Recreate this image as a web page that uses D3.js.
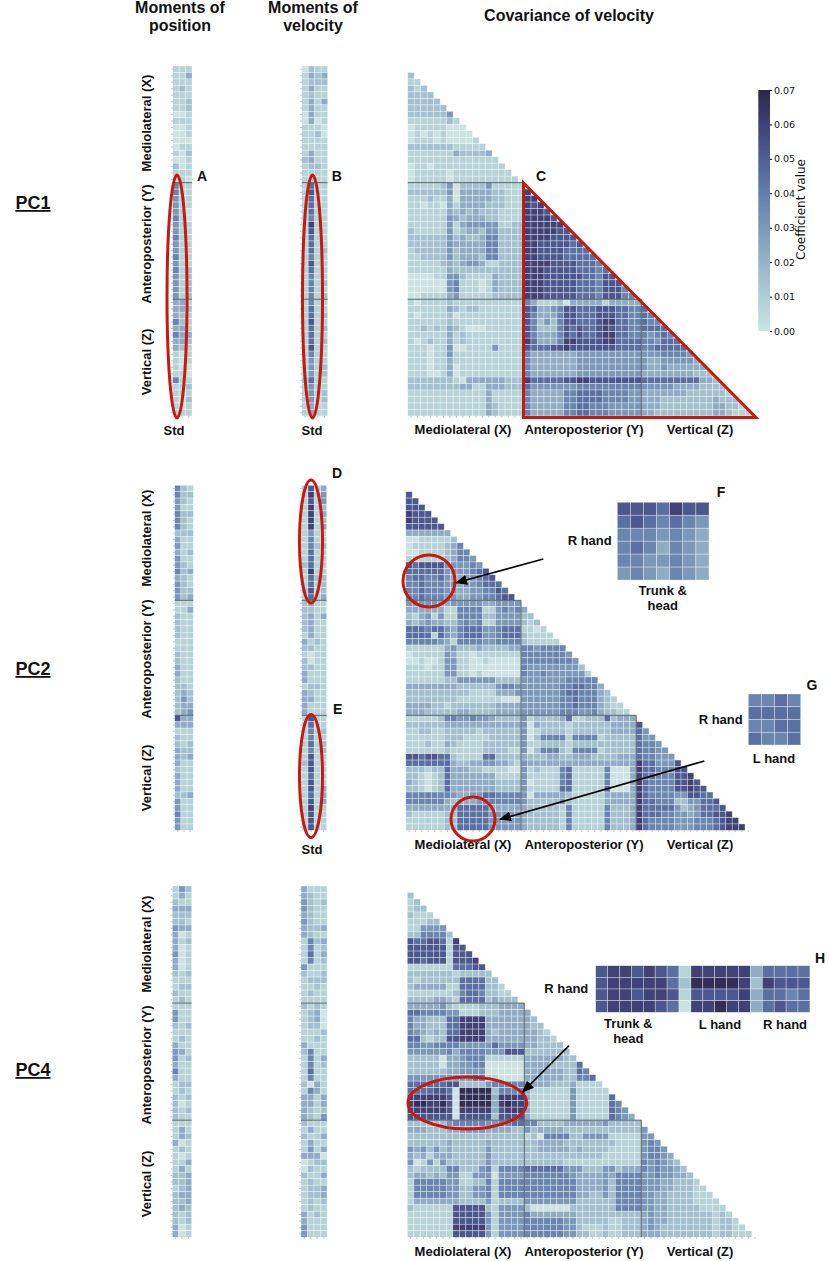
<!DOCTYPE html>
<html>
<head>
<meta charset="utf-8">
<script src="https://cdn.jsdelivr.net/npm/d3@7"></script>
<style>
  html, body { margin: 0; padding: 0; background: #fff; }
  text { font-family: "Liberation Sans", Arial, sans-serif; font-weight: bold; fill: #111; }
</style>
</head>
<body>
<div id="chart"></div>
<script>
// every digit is one cell: value = digit * 0.0075
const levelStep = 0.0075;
const groups = [18, 36];
const colorTicks = [0, 0.01, 0.02, 0.03, 0.04, 0.05, 0.06, 0.07];
const colorStops = ["#cbe3e2", "#afcdd4", "#95b3c7", "#7b98b9", "#647eaa", "#505f95", "#3f4274", "#2b2849"];

// moments, one string per variable (54 rows)
const pc1Pos = ["111","113","111","121","111","112","112","001","111","001","001","000","011","102","001","201","111","010",
  "511","511","411","411","410","510","411","411","511","411","411","511","411","512","412","412","412","412",
  "331","332","321","521","331","533","332","321","101","101","100","110","511","112","111","102","101","111"];
const pc1Vel = ["0211","1323","1222","1311","1211","1313","1311","0311","0301","1110","1120","1111","1111","1311","2311","1221","1111","1111",
  "1611","1711","1611","1611","1611","1511","1811","1711","1611","1611","1612","1511","1711","1611","1511","1512","1511","1512",
  "1511","1611","1612","1711","1612","1611","1612","1711","1511","1411","1412","1412","2611","1411","1412","1412","1311","1311"];
const pc2Pos = ["521","522","421","411","522","521","521","222","311","411","312","411","421","523","321","421","422","423",
  "111","113","211","211","211","211","111","111","211","211","311","311","211","221","232","242","233","234",
  "733","333","111","211","212","322","323","311","211","311","311","311","223","411","411","511","411","411"];
const pc2Vel = ["1713","1814","1714","1812","1813","1812","1813","1411","1511","1522","1611","1611","2611","1811","1622","1612","2712","1613",
  "2311","2211","2313","2311","2311","1311","3121","2211","1011","2011","2211","3111","3111","1221","3211","3311","3111","3111",
  "1711","1611","1512","1511","1612","1512","1711","2711","1711","1611","1711","1713","1613","1713","1811","1711","1711","1711"];
const pc4Pos = ["142","131","211","333","222","221","433","301","312","301","401","301","301","212","111","122","211","121",
  "111","411","411","212","111","121","311","431","412","311","511","311","122","121","212","201","212","211",
  "111","131","132","301","121","101","113","131","223","223","123","233","223","232","212","212","301","301"];
const pc4Vel = ["3111","3211","4212","4211","3211","4211","3223","3211","1523","1512","1613","1512","4111","2112","1222","1121","1211","1111",
  "2121","1230","1230","1220","1112","1121","3111","2511","1513","1512","1611","1511","2031","1531","3313","3313","3212","3214",
  "2111","1311","2113","1311","1413","3330","0122","0211","2113","1211","1223","1223","1212","1211","3121","3111","4111","4111"];

// lower triangles of the covariance matrices, groups of six only to keep the rows countable
const pc1Cov = ["2","11","212","2222","22222","222222","222222 4","111111 21","011111 000","010101 0000","011101 00001",
  "222222 211111","111111 132222 3","111111 111111 11","011011 111111 111","011111 011111 1111","011111 011111 11111",
  "111112 402222 411111",
  "222222 403333 322111 8",
  "111211 303333 322111 88",
  "110110 313333 222111 878",
  "111111 323232 221111 8887",
  "111111 432333 221111 88887",
  "111111 413444 441122 888888",
  "211111 412332 442222 888887 7",
  "222222 423223 552222 888877 77",
  "222222 433333 552222 887777 767",
  "122222 423333 552222 887777 6666",
  "112222 423332 552222 887777 66666",
  "111112 323443 112222 888877 776665",
  "111111 322222 222222 888777 776665 6",
  "000011 442111 132222 888777 777665 77",
  "000000 451110 132222 888777 776665 777",
  "000000 451110 132222 888777 776665 7775",
  "001111 341111 122222 888777 776665 77755",
  "101111 211111 111111 531112 033333 133333",
  "111111 321221 111111 763345 776667 776655 6",
  "101111 201111 111111 753335 776667 776655 65",
  "111111 211111 111111 752425 776667 886655 655",
  "112121 321000 111111 752225 767667 876655 6666",
  "111111 312111 111111 753335 767667 886655 54565",
  "101211 312111 111111 863335 887777 886666 554666",
  "111011 400111 141111 766677 877777 776666 556666 6",
  "111011 411111 111111 533333 334444 444444 444555 54",
  "111011 311111 111111 533333 334444 444444 433444 443",
  "111011 301111 111111 533333 334444 444444 433433 3333",
  "111001 301111 111111 533333 334444 444444 333333 33222",
  "222222 210333 333222 866666 778877 777777 666666 666332",
  "222222 223311 333222 644444 445555 555555 444443 333222 2",
  "111111 111111 311111 533333 556666 555544 333333 322222 21",
  "111111 111111 311111 533333 556666 555544 333222 222223 222",
  "111111 111111 321111 533333 556655 544444 333222 222223 3221",
  "111111 111111 321111 533333 556655 544444 332222 222223 32111"];

const pc2Cov = ["7","77","777","8777","87777","777777","333333 3","001111 12","011111 235","001111 2355","111111 23554",
  "767777 444454","666666 444456 7","566556 433445 67","556555 443445 666","556555 443344 5576","556555 443344 55677",
  "444443 344444 334444",
  "333333 115555 114545 3",
  "213414 115555 224444 22",
  "323433 224545 114444 212",
  "666566 435666 445666 1101",
  "666616 435666 445666 21111",
  "555554 315555 445555 211111",
  "111111 342223 222233 554555 5",
  "011111 431101 111111 555555 54",
  "001001 441100 100000 555555 554",
  "111011 441100 000000 544444 4442",
  "111111 441101 000000 544544 44441",
  "111111 224444 442222 444444 455555",
  "333333 332222 224554 444444 556655 3",
  "222222 222211 113334 444444 566555 32",
  "222222 221111 111000 444444 556555 321",
  "333322 122222 223333 444444 556555 3211",
  "333222 223322 223333 444444 555445 32211",
  "111112 554454 432222 412222 361122 262333",
  "222222 333333 333333 403222 212222 223333 7",
  "112211 222221 222222 401222 212222 223333 64",
  "111111 222111 122222 402555 515555 122222 644",
  "111211 321111 222222 411222 212222 222222 6554",
  "111111 211111 222211 402555 215555 122222 65544",
  "776776 621111 662222 322233 223332 222333 655444",
  "666666 632233 443321 433333 333333 333333 866444 7",
  "222122 633322 111100 412111 561111 150003 866555 77",
  "221012 633333 331111 411111 561111 150003 866555 778",
  "321012 633333 332222 401111 561111 150003 865555 7787",
  "221012 633333 332222 411111 661111 160003 865555 77877",
  "555555 543344 665555 403333 321111 133333 865555 447766",
  "555555 323334 555555 422222 421111 133333 866555 224466 7",
  "333333 336666 633333 322222 151111 152223 866666 423466 67",
  "211111 226666 644444 322222 151111 152223 866655 443466 778",
  "111111 226666 644444 322222 151111 152223 865555 444555 6788",
  "111111 226666 644444 322222 151111 152223 865555 444555 67888"];

const pc4Cov = ["2","12","122","2111","11122","114444","225555 2","766776 18","777777 177","777777 1777","776777 17778",
  "111111 166677","222222 212222 2","212222 226666 22","233333 116666 221","111111 125665 2211","222233 216666 23222",
  "333334 211112 223333",
  "665555 441112 223333 3",
  "533222 668888 333333 32",
  "533222 668888 333333 322",
  "543232 668888 323333 3321",
  "662122 778888 333333 33221",
  "554455 554444 464444 332222",
  "444444 535555 444777 222222 2",
  "222220 334555 111111 333333 22",
  "222220 334455 000000 333322 226",
  "222222 334444 000000 333333 2265",
  "444444 444466 110000 333333 22556",
  "666666 772222 455555 333322 231111",
  "666677 609999 925555 311111 141111 1",
  "888888 709999 938888 311111 141111 16",
  "899889 709999 938988 311111 141111 165",
  "888888 708888 837888 311111 141111 1654",
  "777777 707777 727777 311111 141111 16543",
  "222222 455555 445566 552222 333333 422222",
  "333222 334444 333322 423333 222222 222222 4",
  "222222 222222 222222 120555 522444 411111 44",
  "222222 322222 322222 223333 222222 221111 454",
  "434242 322222 422222 223333 323222 211111 4554",
  "323133 322222 422222 222222 222222 111111 45543",
  "401414 222222 422222 222222 111111 111111 545432",
  "212222 552224 515555 666666 444222 442333 545443 2",
  "233232 441144 404444 555555 543333 435555 445443 32",
  "155555 441122 515555 555555 553333 425555 444332 221",
  "155555 442244 515555 555555 553333 425555 444332 2211",
  "155555 442244 515555 555555 553322 425555 443322 22111",
  "133333 332222 412222 444444 442222 225555 443322 221111",
  "211111 177777 214444 200000 022222 225555 443322 222111 1",
  "111111 177777 414444 533333 332222 222222 343322 222221 21",
  "111111 177777 414444 555555 442222 211222 343322 222221 221",
  "111111 188888 414444 555555 442111 211222 343222 222221 2211",
  "111111 177777 414444 555555 442211 211222 333222 222221 22111"];

// the enlarged insets
const insetF = ["7776877","6765654","5554543","5653543","5544543","4543543"];
const insetG = ["5565","6666","5566","6556"];
const insetH = ["7887876 1 88888 3 6666",
  "7888886 2 99998 2 8777",
  "7887887 1 77778 3 6656",
  "7888876 0 88988 3 6766"];

const width = 829, height = 1261;
const svg = d3.select("#chart").append("svg").attr("width", width).attr("height", height)
  .style("display", "block");
const defs = svg.append("defs");

// the reference is a slightly soft raster
defs.append("filter").attr("id", "soft")
  .attr("x", "-2%").attr("y", "-2%").attr("width", "104%").attr("height", "104%")
  .append("feGaussianBlur").attr("stdDeviation", 0.3);

const color = d3.scaleLinear().domain(colorTicks).range(colorStops).clamp(true);
const parseRow = (row) => Array.from(row.replace(/\s/g, ""), (ch) => +ch * levelStep);

function drawCells(rows, xScale, yScale, rowStart) {
  const g = svg.append("g").attr("filter", "url(#soft)");
  rows.forEach((row, r) => {
    g.selectAll(null)
      .data(parseRow(row))
      .enter()
      .append("rect")
      .attr("x", (d, c) => xScale(c))
      .attr("y", yScale(r + rowStart))
      .attr("width", xScale.bandwidth())
      .attr("height", yScale.bandwidth())
      .attr("fill", (d) => color(d))
      .attr("stroke", "#fff")
      .attr("stroke-opacity", 0.55)
      .attr("stroke-width", 0.6);
  });
}

function band(n, start, size) {
  return d3.scaleBand().domain(d3.range(n)).range([start, start + n * size]);
}

function tinyAxis(axis, tx, ty) {
  const g = svg.append("g").attr("transform", "translate(" + tx + "," + ty + ")")
    .call(axis.tickSize(1.5).tickFormat(""));
  g.select(".domain").remove();
  g.selectAll("line").attr("stroke", "#999").attr("stroke-width", 0.7);
}

function rule(x1, y1, x2, y2) {
  svg.append("line").attr("x1", x1).attr("y1", y1).attr("x2", x2).attr("y2", y2)
    .attr("stroke", "#4d5358").attr("stroke-width", 0.9);
}

function drawStrip(rows, left, cellW, top, cellH) {
  const x = band(rows[0].length, left, cellW);
  const y = band(54, top, cellH);
  drawCells(rows, x, y, 0);
  tinyAxis(d3.axisBottom(x), 0, top + 54 * cellH);
  tinyAxis(d3.axisLeft(y), left, 0);
  groups.forEach((b) => rule(left, y(b), left + rows[0].length * cellW, y(b)));
}

function drawTriangle(rows, left, cellW, top, cellH) {
  const x = band(54, left, cellW);
  const y = band(54, top, cellH);
  drawCells(rows, x, y, 1);
  tinyAxis(d3.axisBottom(x), 0, top + 54 * cellH);
  groups.forEach((b) => {
    rule(left, y(b), x(b), y(b));
    rule(x(b), y(b), x(b), top + 54 * cellH);
  });
}

function drawInset(rows, left, top, cellW, cellH) {
  const cols = rows[0].replace(/\s/g, "").length;
  drawCells(rows, band(cols, left, cellW), band(rows.length, top, cellH), 0);
}

function label(str, x, y, size, anchor, rotate) {
  const t = svg.append("text").text(str)
    .attr("font-size", size)
    .attr("text-anchor", anchor || "middle");
  if (rotate) t.attr("transform", "translate(" + x + "," + y + ") rotate(-90)");
  else t.attr("x", x).attr("y", y);
  return t;
}

// heatmaps
drawStrip(pc1Pos, 172.7, 6.43, 66, 6.48);
drawStrip(pc1Vel, 301.7, 6.5, 66, 6.48);
drawTriangle(pc1Cov, 407.7, 6.49, 66, 6.48);
drawStrip(pc2Pos, 174.7, 6.2, 485.3, 6.39);
drawStrip(pc2Vel, 301.7, 6.25, 485.3, 6.39);
drawTriangle(pc2Cov, 405.8, 6.4, 485.3, 6.39);
drawStrip(pc4Pos, 172.3, 6.47, 886, 6.505);
drawStrip(pc4Vel, 301, 6.5, 886, 6.505);
drawTriangle(pc4Cov, 407.3, 6.5, 886, 6.505);
drawInset(insetF, 617.3, 502.3, 13.1, 12.96);
drawInset(insetG, 748.3, 694, 13.1, 12.75);
drawInset(insetH, 595.7, 965.7, 11.9, 11.65);

// colour bar
const barY = d3.scaleLinear().domain([0, 0.07]).range([331, 90]);
const grad = defs.append("linearGradient").attr("id", "bar").attr("x1", 0).attr("x2", 0).attr("y1", 1).attr("y2", 0);
colorTicks.forEach((v, i) => {
  grad.append("stop").attr("offset", v / 0.07).attr("stop-color", colorStops[i]);
});
svg.append("rect").attr("x", 758.3).attr("y", barY(0.07)).attr("width", 11.7)
  .attr("height", barY(0) - barY(0.07)).attr("fill", "url(#bar)");
const barAxis = svg.append("g").attr("transform", "translate(770,0)")
  .call(d3.axisRight(barY).tickValues(colorTicks).tickSize(2).tickPadding(2).tickFormat(d3.format(".2f")));
barAxis.select(".domain").remove();
barAxis.selectAll("text").style("font-family", "'DejaVu Sans', sans-serif").style("font-weight", "normal")
  .attr("font-size", 9.5);
svg.append("text").text("Coefficient value")
  .attr("transform", "translate(805,209.5) rotate(-90)")
  .attr("text-anchor", "middle")
  .style("font-family", "'DejaVu Sans', sans-serif").style("font-weight", "normal")
  .attr("font-size", 12);

// red annotations
const red = "#c9180c";
function ring(cx, cy, rx, ry) {
  svg.append("ellipse").attr("cx", cx).attr("cy", cy).attr("rx", rx).attr("ry", ry)
    .attr("fill", "none").attr("stroke", red).attr("stroke-width", 3);
}
ring(177, 296.5, 10, 121.5);
ring(312.5, 296.5, 10, 121.5);
ring(311, 541.5, 11.5, 61.5);
ring(311, 776, 11.5, 61.5);
ring(429, 581, 26, 26);
ring(473, 819, 22, 22);
ring(467.3, 1103, 59.3, 26);
svg.append("path").attr("d", d3.line()([[523.5, 183], [523.5, 417.5], [756, 417.5]]) + "Z")
  .attr("fill", "none").attr("stroke", red).attr("stroke-width", 3);

// arrows
defs.append("marker").attr("id", "head").attr("viewBox", "0 0 12 10").attr("refX", 11).attr("refY", 5)
  .attr("markerWidth", 12).attr("markerHeight", 10).attr("markerUnits", "userSpaceOnUse").attr("orient", "auto")
  .append("path").attr("d", "M0,0L12,5L0,10Z").attr("fill", "#000");
[[543.3, 559, 456, 582.7], [704.3, 761, 500, 819.3], [569, 1045.7, 522.7, 1092]].forEach((a) => {
  svg.append("line").attr("x1", a[0]).attr("y1", a[1]).attr("x2", a[2]).attr("y2", a[3])
    .attr("stroke", "#000").attr("stroke-width", 1.7).attr("marker-end", "url(#head)");
});

// titles
label("Moments of", 180, 13, 16);
label("position", 180, 31, 16);
label("Moments of", 313, 13, 16);
label("velocity", 313, 31, 16);
label("Covariance of velocity", 569, 21, 16);

[["PC1", 209], ["PC2", 675], ["PC4", 1076]].forEach((d) => {
  label(d[0], 33, d[1], 18).attr("text-decoration", "underline");
});

// axis group names
[[123, 244, 362], [538, 659, 778], [944, 1065, 1184]].forEach((ys) => {
  label("Mediolateral (X)", 151, ys[0], 13, "middle", true);
  label("Anteroposterior (Y)", 151, ys[1], 13, "middle", true);
  label("Vertical (Z)", 151, ys[2], 13, "middle", true);
});
[434, 849, 1256].forEach((y) => {
  label("Mediolateral (X)", 463, y, 13);
  label("Anteroposterior (Y)", 584, y, 13);
  label("Vertical (Z)", 700, y, 13);
});
label("Std", 174, 435, 13);
label("Std", 312, 435, 13);
label("Std", 312, 854, 13);

// panel letters
[["A", 202, 181], ["B", 336.7, 181], ["C", 541, 181], ["D", 337, 478], ["E", 337.7, 714],
 ["F", 721, 497], ["G", 812, 690], ["H", 820, 963]].forEach((d) => label(d[0], d[1], d[2], 14));

// inset captions
label("R hand", 611.7, 545, 13, "end");
label("Trunk &", 662.7, 595, 13);
label("head", 662.7, 610, 13);
label("R hand", 742.7, 724, 13, "end");
label("L hand", 774, 763, 13);
label("R hand", 588.3, 992.7, 13, "end");
label("Trunk &", 628.3, 1028, 13);
label("head", 628.3, 1043, 13);
label("L hand", 720, 1029, 13);
label("R hand", 785, 1029, 13);
</script>
</body>
</html>
